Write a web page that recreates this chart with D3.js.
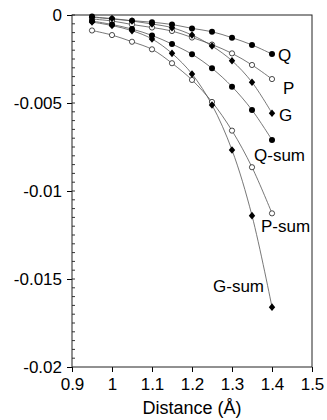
<!DOCTYPE html>
<html>
<head>
<meta charset="utf-8">
<script src="https://cdn.jsdelivr.net/npm/d3@7"></script>
<style>
  body { margin: 0; background: #fff; }
  svg { display: block; font-family: "Liberation Sans", Arial, sans-serif; }
</style>
</head>
<body>
<div id="chart"></div>
<script>
// values
const distance = [0.95, 1.0, 1.05, 1.1, 1.15, 1.2, 1.25, 1.3, 1.35, 1.4];
const qVals    = [-0.00009, -0.00023, -0.00032, -0.00041, -0.00054, -0.00076, -0.00095, -0.00129, -0.00170, -0.00222];
const pVals    = [-0.00023, -0.00034, -0.00054, -0.00071, -0.00091, -0.00128, -0.00168, -0.00218, -0.00284, -0.00364];
const gVals    = [-0.00014, -0.00020, -0.00034, -0.00051, -0.00072, -0.00114, -0.00176, -0.00260, -0.00382, -0.00558];
const qSumVals = [-0.00034, -0.00054, -0.00080, -0.00116, -0.00165, -0.00223, -0.00303, -0.00407, -0.00540, -0.00710];
const gSumVals = [-0.00040, -0.00060, -0.00089, -0.00136, -0.00218, -0.00335, -0.00511, -0.00767, -0.01140, -0.01660];
const pSumVals = [-0.00088, -0.00114, -0.00152, -0.00195, -0.00274, -0.00369, -0.00494, -0.00657, -0.00865, -0.01127];

const xTicks = [0.9, 1.0, 1.1, 1.2, 1.3, 1.4, 1.5];
const yTicks = [0, -0.005, -0.01, -0.015, -0.02];

const series = [
  { name: 'Q',     values: qVals,    marker: 'dot',     label: [278, 60.5] },
  { name: 'P',     values: pVals,    marker: 'open',    label: [283, 93.5] },
  { name: 'G',     values: gVals,    marker: 'diamond', label: [279, 120.5] },
  { name: 'Q-sum', values: qSumVals, marker: 'dot',     label: [254, 160.5] },
  { name: 'P-sum', values: pSumVals, marker: 'open',    label: [261, 231.5] },
  { name: 'G-sum', values: gSumVals, marker: 'diamond', label: [213, 291.5] },
];

const width = 327, height = 420;
const margin = { top: 15, right: 15, bottom: 53, left: 72 };
const w = width - margin.left - margin.right;
const h = height - margin.top - margin.bottom;

const svg = d3.select('#chart').append('svg')
  .attr('width', width)
  .attr('height', height);

const g = svg.append('g')
  .attr('transform', `translate(${margin.left},${margin.top})`);

const x = d3.scaleLinear().domain([0.9, 1.5]).range([0, w]);
const y = d3.scaleLinear().domain([-0.02, 0]).range([h, 0]);

// x axis
const xAxis = g.append('g')
  .attr('transform', `translate(0,${h})`)
  .call(d3.axisBottom(x).tickValues(xTicks).tickSize(5).tickPadding(6)
    .tickFormat(d => String(+d.toFixed(1))));
xAxis.select('.domain').remove();
xAxis.selectAll('text').attr('font-size', 17).attr('fill', '#000').attr('font-family', null);
xAxis.selectAll('line').attr('stroke', '#000');

// y axis: minor ticks inside, major ticks across
const minor = d3.range(0, -0.02, -0.0005);
g.append('g').selectAll('line').data(minor).join('line')
  .attr('x1', 0).attr('x2', 3)
  .attr('y1', d => y(d)).attr('y2', d => y(d))
  .attr('stroke', '#000').attr('stroke-width', 0.8);

const yAxis = g.append('g')
  .call(d3.axisLeft(y).tickValues(yTicks).tickSize(5).tickPadding(5)
    .tickFormat(d => d === 0 ? '0' : String(+d.toFixed(3))));
yAxis.select('.domain').remove();
yAxis.selectAll('text').attr('font-size', 17).attr('fill', '#000').attr('font-family', null);
yAxis.selectAll('line').attr('stroke', '#000');

// frame
g.append('rect')
  .attr('x', 0).attr('y', 0).attr('width', w).attr('height', h)
  .attr('fill', 'none').attr('stroke', '#222').attr('stroke-width', 1);

// curves
const line = d3.line()
  .x((d, i) => x(distance[i]))
  .y(d => y(d))
  .curve(d3.curveCatmullRom.alpha(0.5));

series.forEach(s => {
  g.append('path')
    .datum(s.values)
    .attr('fill', 'none')
    .attr('stroke', '#555')
    .attr('stroke-width', 0.8)
    .attr('d', line);
});

series.forEach(s => {
  const pts = g.append('g');
  if (s.marker === 'diamond') {
    pts.selectAll('path').data(s.values).join('path')
      .attr('transform', (d, i) => `translate(${x(distance[i])},${y(d)})`)
      .attr('d', 'M0,-3.8L3.2,0L0,3.8L-3.2,0Z')
      .attr('fill', '#000');
  } else {
    pts.selectAll('circle').data(s.values).join('circle')
      .attr('cx', (d, i) => x(distance[i]))
      .attr('cy', d => y(d))
      .attr('r', s.marker === 'dot' ? 3 : 2.6)
      .attr('fill', s.marker === 'dot' ? '#000' : '#fff')
      .attr('stroke', '#000')
      .attr('stroke-width', s.marker === 'dot' ? 0 : 0.7);
  }
  svg.append('text')
    .attr('x', s.label[0])
    .attr('y', s.label[1])
    .attr('font-size', 17)
    .text(s.name);
});

svg.append('text')
  .attr('x', margin.left + w / 2)
  .attr('y', 414)
  .attr('text-anchor', 'middle')
  .attr('font-size', 18)
  .text('Distance (Å)');
</script>
</body>
</html>
